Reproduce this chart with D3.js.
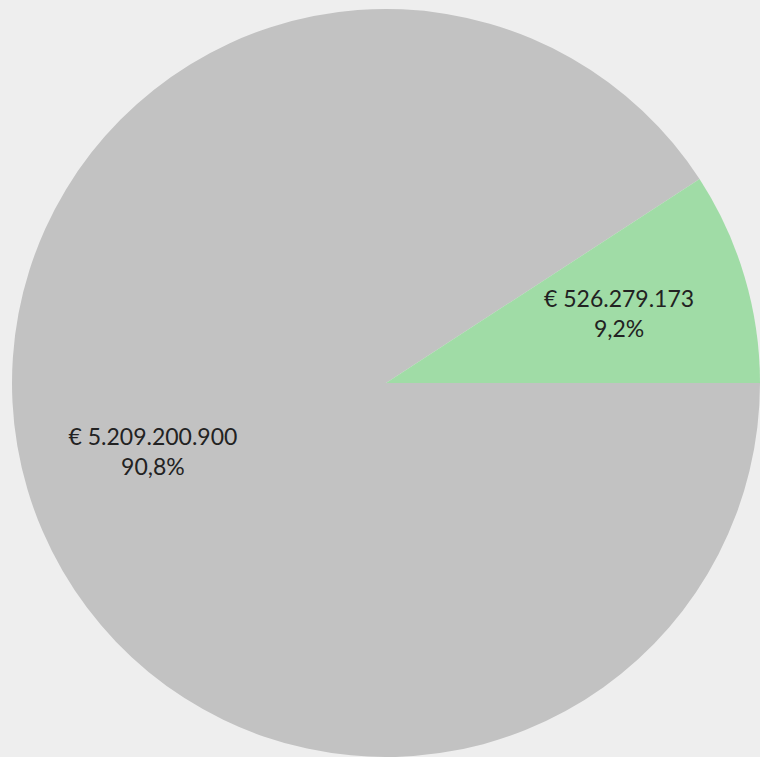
<!DOCTYPE html>
<html>
<head>
<meta charset="utf-8">
<script src="https://cdn.jsdelivr.net/npm/d3@7"></script>
<style>
  html, body { margin: 0; padding: 0; background: #eeeeee; }
  svg { display: block; }
</style>
</head>
<body>
<div class="chart"></div>
<script>
var labels = ["€ 5.209.200.900", "€ 526.279.173"],
    values = [5209200900, 526279173],
    percents = ["90,8%", "9,2%"],
    colors = ["#c2c2c2", "#a0dca6"];

var width = 760,
    height = 757,
    cx = 386, cy = 383,
    radius = 374;

var svg = d3.select(".chart").append("svg")
    .attr("width", width)
    .attr("height", height)

var g = svg.append("g")
    .attr("transform", "translate(" + cx + "," + cy + ")")

var pie = d3.pie()
    .sort(null)
    .startAngle(Math.PI / 2)
    .endAngle(Math.PI / 2 + 2 * Math.PI)
    .value(function(d) { return d; });

var arc = d3.arc().innerRadius(0).outerRadius(radius);
var labelArc = d3.arc().innerRadius(radius * 0.65).outerRadius(radius * 0.65);

var arcs = pie(values);

g.selectAll(".slice")
    .data(arcs)
    .enter()
    .append("path")
    .attr("class", "slice")
    .attr("d", arc)
    .style("fill", function(d, i) { return colors[i]; })

var txt = g.selectAll(".label")
    .data(arcs)
    .enter()
    .append("text")
    .attr("class", "label")
    .attr("transform", function(d) { return "translate(" + labelArc.centroid(d) + ")"; })
    .attr("text-anchor", "middle")
    .attr("font-family", "Lato")
    .attr("font-size", "23px")
    .attr("fill", "#222")

txt.append("tspan")
    .attr("x", 0)
    .attr("y", -7)
    .text(function(d, i) { return labels[i]; })
txt.append("tspan")
    .attr("x", 0)
    .attr("y", 23)
    .text(function(d, i) { return percents[i]; })
</script>
</body>
</html>
